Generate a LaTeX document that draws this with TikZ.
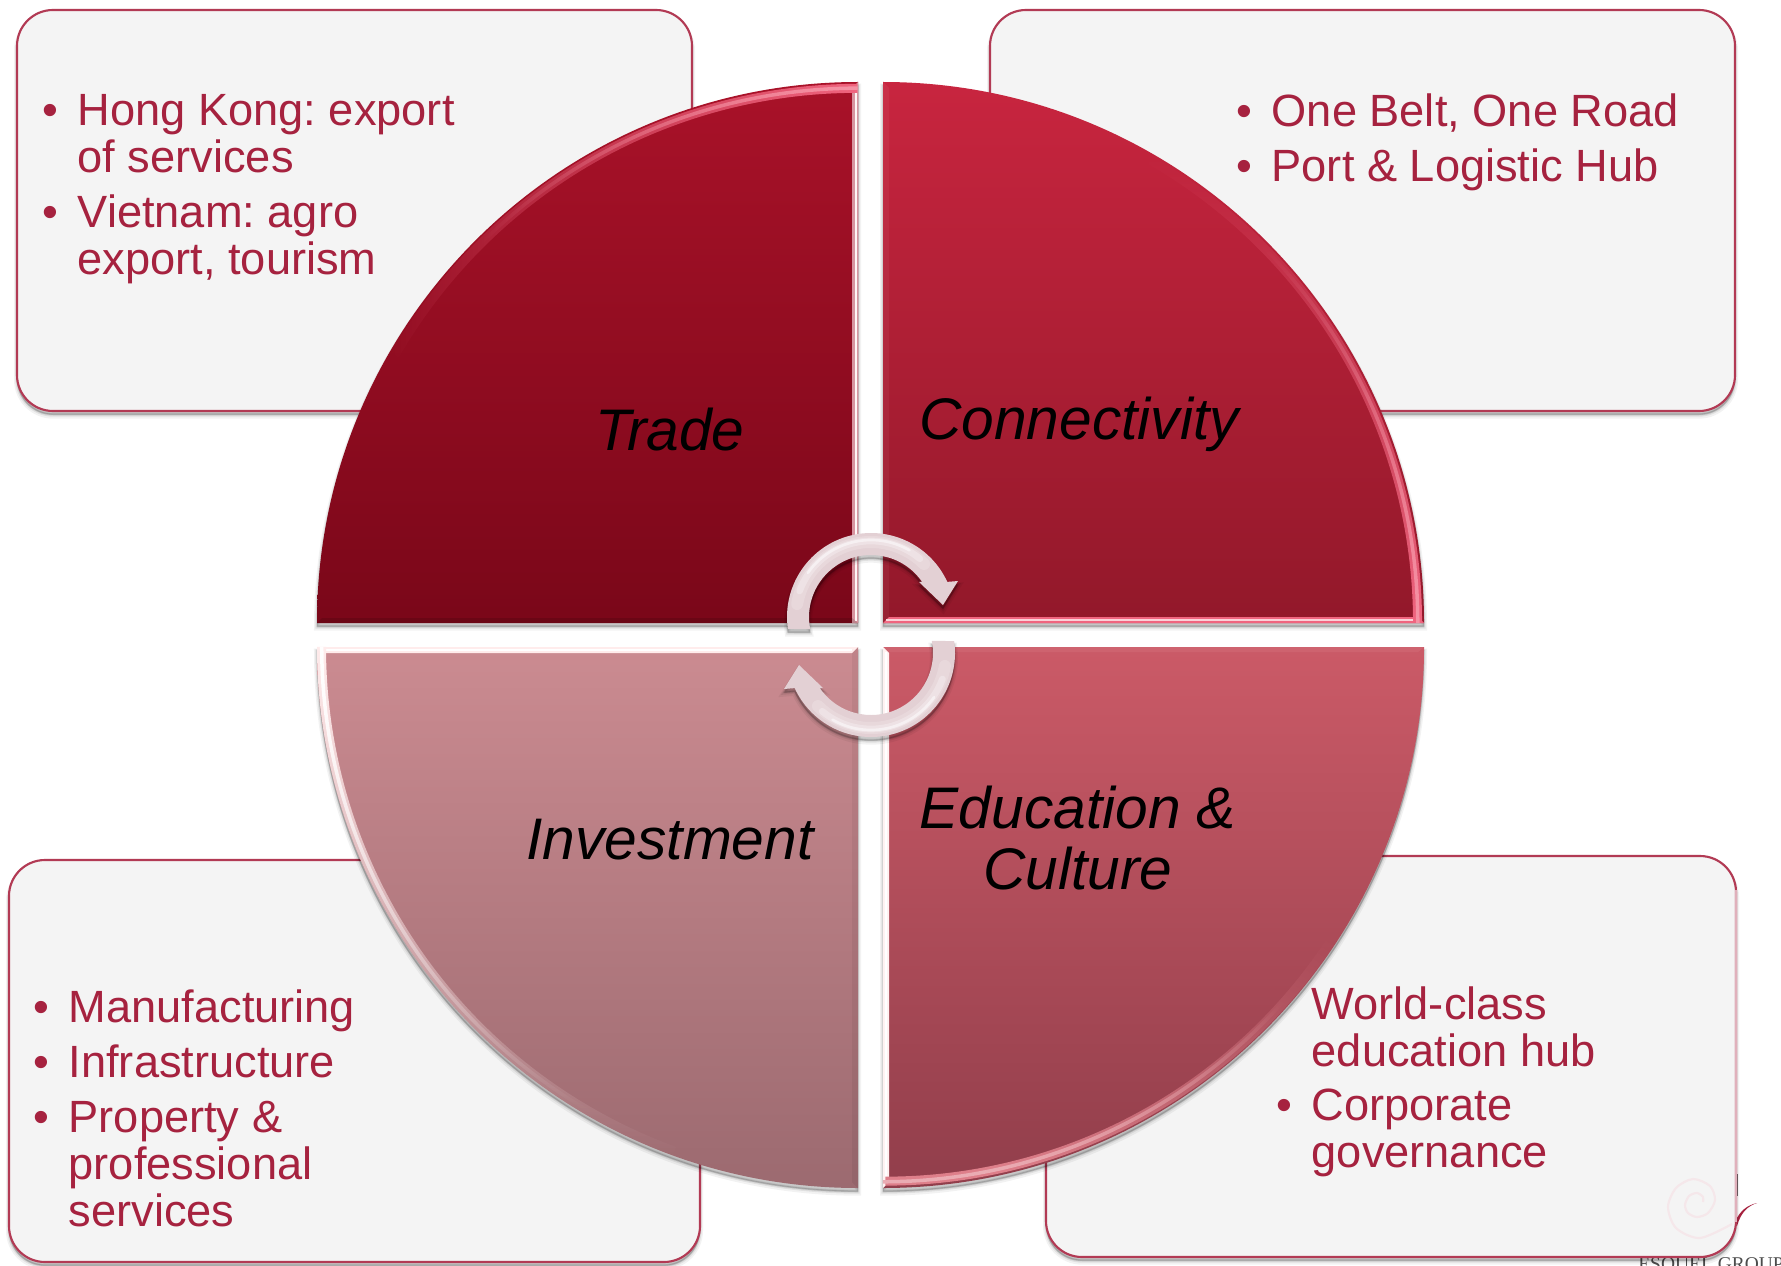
\documentclass[tikz,border=0pt]{standalone}
\usepackage{fontspec}
\setmainfont{Liberation Sans}
\newfontfamily\logofont{Liberation Serif}
\usetikzlibrary{calc,fadings}
\definecolor{txtred}{HTML}{A6223F}
\definecolor{boxfill}{HTML}{F4F4F4}
\definecolor{boxline}{HTML}{B23A54}
\definecolor{arrowfill}{HTML}{E3D0D4}
\definecolor{HTMLTL0}{HTML}{A91229}
\definecolor{HTMLTL1}{HTML}{7A0719}
\definecolor{HTMLTR0}{HTML}{C8253F}
\definecolor{HTMLTR1}{HTML}{92182A}
\definecolor{HTMLBL0}{HTML}{CB8B91}
\definecolor{HTMLBL1}{HTML}{9C6A70}
\definecolor{HTMLBR0}{HTML}{CB5A67}
\definecolor{HTMLBR1}{HTML}{913E4B}
\definecolor{HTMLTLr}{HTML}{F0657F}
\definecolor{HTMLTLd}{HTML}{8E1028}
\definecolor{HTMLBRr}{HTML}{DE7F8A}
\tikzfading[name=rimfade,top color=transparent!0,bottom color=transparent!100]
\newcommand{\bl}{\makebox[26.6pt][l]{\textbullet}}
\newcommand{\nb}{\hspace*{26.6pt}}
% annular highlight: cx,cy,r_outer,a0,a1,r_inner,colour,fading angle
\newcommand{\rimfill}[8]{%
  \fill[#7,path fading=rimfade,fading angle=#8] ($(#1,-#2)+(#4:#3)$) arc (#4:#5:#3) -- ($(#1,-#2)+(#5:#6)$) arc (#5:#4:#6) -- cycle;}
\tikzset{
  softshadow/.style={
    preaction={draw=black,fill=black,draw opacity=.05,fill opacity=.05,line width=4.5pt,transform canvas={yshift=-3.5pt}},
    preaction={draw=black,fill=black,draw opacity=.07,fill opacity=.07,line width=2.5pt,transform canvas={yshift=-3pt}},
    preaction={draw=black,fill=black,draw opacity=.10,fill opacity=.10,line width=1pt,transform canvas={yshift=-2.5pt}}},
  infobox/.style={draw=boxline,fill=boxfill,line width=1.6pt,rounded corners=27pt,softshadow},
  boxtext/.style={anchor=north west,inner sep=0pt,text=txtred,align=left,font=\fontsize{33.9}{35.25}\selectfont\frenchspacing},
  catlabel/.style={inner sep=0pt,text=black,align=center,font=\fontsize{44}{45.75}\selectfont\itshape},
  rotarrow/.style={fill=arrowfill,draw=none,softshadow}
}
\begin{document}
\begin{tikzpicture}[x=.75pt,y=.75pt]
\useasboundingbox (0,0) rectangle (1781,-1266);
\fill[white] (0,0) rectangle (1781,-1266);
% logo behind the lower right box
\node[anchor=north west,inner sep=0pt,text=black!70,font=\logofont\fontsize{14.6}{15}\selectfont] (logotext) at (1638,-1257) {ESQUEL GROUP};
\draw[line width=2pt,black!60] (1737,-1174) -- (1737,-1196);
\fill[txtred] (1735,-1222) .. controls (1740,-1210) and (1748,-1205) .. (1757,-1203) .. controls (1748,-1206) and (1741,-1212) .. (1737,-1226) -- cycle;
% boxes
\path[infobox] (17,-10) rectangle (692,-411);
\path[infobox] (990,-10) rectangle (1735,-411);
\path[infobox] (9,-860) rectangle (700,-1262);
\path[infobox] (1046,-856) rectangle (1736,-1257);
\draw[line width=1.7pt,color=boxline!40!white] (1736,-890) -- (1736,-1222);
% logo swirl on the box
\draw[line width=1.6pt,color=txtred!11,smooth] plot coordinates {(1732,-1224) (1700,-1238) (1676,-1228) (1668,-1207) (1676,-1188) (1693,-1179) (1710,-1186) (1715,-1200) (1708,-1213) (1697,-1217) (1688,-1213) (1685,-1205) (1689,-1196) (1697,-1193) (1703,-1197) (1703,-1202)};
% box texts
\node[boxtext] (tltext) at (42,-94.5) {\bl Hong Kong: export\\\nb of services\\[6pt]\bl Vietnam: agro\\\nb export, tourism};
\node[boxtext] (trtext) at (1236,-93.5) {\bl One Belt, One Road\\[6pt]\bl Port \& Logistic Hub};
\node[boxtext] (bltext) at (33,-989) {\bl Manufacturing\\[6pt]\bl Infrastructure\\[6pt]\bl Property \&\\\nb professional\\\nb services};
\node[boxtext] (brtext) at (1276,-986) {\nb World-class\\\nb education hub\\[5.5pt]\bl Corporate\\\nb governance};
% quadrants
\path[softshadow,top color=HTMLTL0,bottom color=HTMLTL1] (858,-623) -- (317,-623) arc (180:90:541) -- cycle;
\path[softshadow,top color=HTMLTR0,bottom color=HTMLTR1] (883,-623) -- (883,-82) arc (90:0:541) -- cycle;
\path[softshadow,top color=HTMLBL0,bottom color=HTMLBL1] (858,-647) -- (858,-1188) arc (270:180:541) -- cycle;
\path[softshadow,top color=HTMLBR0,bottom color=HTMLBR1] (883,-647) -- (1424,-647) arc (0:-90:541) -- cycle;
% bevels: straight edges
\fill[white!55!HTMLTL0] (858,-82) -- (858,-623) -- (852,-623) -- (852,-88) -- cycle;
\fill[white!85!pink] (855.3,-84) rectangle (857,-621);
\fill[black,opacity=.12] (317,-623) -- (858,-623) -- (852,-618) -- (322,-618) -- cycle;
\fill[HTMLTLr] (883,-623) -- (1424,-623) -- (1418,-617) -- (889,-617) -- cycle;
\fill[white!70!HTMLTLr] (886,-621.3) rectangle (1420,-619.3);
\fill[white!70!pink] (317,-647) -- (858,-647) -- (852,-653) -- (323,-653) -- cycle;
\fill[white] (322,-649) rectangle (852,-651);
\fill[white!80!pink] (883,-647) -- (883,-1188) -- (889,-1182) -- (889,-653) -- cycle;
\fill[white] (885,-652) rectangle (887,-1182);
\fill[white,opacity=.06] (1424,-647) -- (883,-647) -- (889,-652) -- (1418,-652) -- cycle;
\fill[black,opacity=.05] (858,-647) -- (858,-1188) -- (852,-1182) -- (852,-653) -- cycle;
\fill[white,opacity=.05] (883,-82) -- (883,-623) -- (889,-623) -- (889,-88) -- cycle;
% bevels: arcs
\rimfill{858}{623}{539}{90}{150}{530}{HTMLTLr}{-90}
\rimfill{858}{623}{536.5}{90}{135}{533}{white!30!HTMLTLr}{-90}
\rimfill{883}{623}{539}{0}{60}{530}{HTMLTLr}{180}
\rimfill{883}{623}{536.5}{0}{45}{533}{white!30!HTMLTLr}{180}
\rimfill{858}{647}{541}{180}{250}{532}{white!70!pink}{0}
\rimfill{858}{647}{538}{180}{240}{534.5}{white}{0}
\rimfill{883}{647}{539}{-90}{-25}{530}{HTMLBRr}{135}
\rimfill{883}{647}{536.5}{-90}{-35}{533}{white!35!HTMLBRr}{135}
% category labels
\node[catlabel] (trade) at (670,-430) {Trade};
\node[catlabel] (conn) at (1079,-424.5) {Connectivity};
\node[catlabel] (invest) at (670,-840) {Investment};
\node[catlabel] (educ) at (1078,-838) {Education \&\\Culture};
% circular arrows
\foreach \arot in {0,180}{
  \begin{scope}[rotate around={\arot:(871,-635)}]
    \path[rotarrow] ($(871,-617)+(188.2:84)$) arc (188.2:24.7:84) -- (958,-581) -- (943,-605) -- (919,-582) -- ($(871,-617)+(34.5:62)$) arc (34.5:191.2:62) -- cycle;
    \draw[white,line width=9pt,opacity=.18,line cap=round] ($(871,-617)+(170:75)$) arc (170:45:75);
    \draw[white,line width=5pt,opacity=.28,line cap=round] ($(871,-617)+(160:76)$) arc (160:50:76);
    \draw[white,line width=2pt,opacity=.5,line cap=round] ($(871,-617)+(145:77)$) arc (145:60:77);
  \end{scope}
}
\end{tikzpicture}
\end{document}
